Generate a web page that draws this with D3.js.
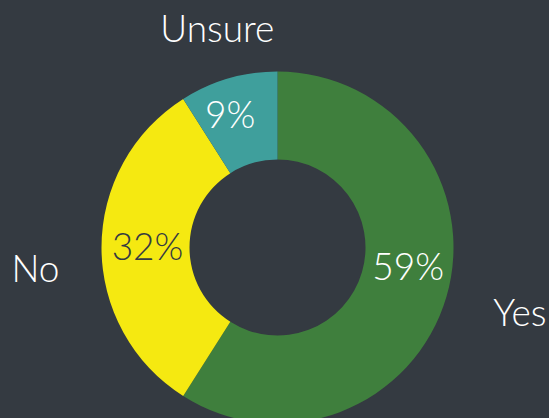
<!DOCTYPE html>
<html>
<head>
<meta charset="utf-8">
<script src="https://cdn.jsdelivr.net/npm/d3@7"></script>
<style>
  html, body { margin: 0; padding: 0; background: #343a41; }
  svg { display: block; }
  text { font-family: Lato, "Open Sans", sans-serif; font-weight: 300; }
</style>
</head>
<body>
<svg id="chart" width="549" height="418"></svg>
<script>
// answers in drawing order, clockwise from 12 o'clock
var categories = ["Yes", "No", "Unsure"];
var shares = [59, 32, 9];
var sliceColors = ["#3f7f3d", "#f5e911", "#3f9f9c"];
var valueColors = ["#ffffff", "#343a41", "#ffffff"];

// small hand nudges so labels sit where they were dragged in the original
var valueShift = [[2, -19], [4, -2], [-10, -5]];
var nameShift = [[-5, 0], [12, 20], [4, 1]];

var cx = 277.5, cy = 247.5;
var outerR = 176, innerR = 88;

var svg = d3.select('#chart');
var g = svg.append('g').attr('transform', 'translate(' + cx + ',' + cy + ')');

var rows = categories.map(function(c, i) {
  return { name: c, value: shares[i], color: sliceColors[i], ink: valueColors[i], i: i };
});

var pie = d3.pie().sort(null).value(function(d) { return d.value; });
var arcs = pie(rows);

var arc = d3.arc().innerRadius(innerR).outerRadius(outerR);
var valueArc = d3.arc().innerRadius(134).outerRadius(134);
var nameArc = d3.arc().innerRadius(230).outerRadius(230);

function place(a, shift) {
  return function(d) {
    var p = a.centroid(d), s = shift[d.data.i];
    return 'translate(' + (p[0] + s[0]) + ',' + (p[1] + s[1]) + ')';
  };
}

g.selectAll('path.slice')
  .data(arcs)
  .enter()
  .append('path')
  .attr('class', 'slice')
  .attr('d', arc)
  .attr('fill', function(d) { return d.data.color; });

g.selectAll('text.value')
  .data(arcs)
  .enter()
  .append('text')
  .attr('class', 'value')
  .attr('transform', place(valueArc, valueShift))
  .attr('text-anchor', 'middle')
  .attr('dominant-baseline', 'central')
  .attr('font-size', 37)
  .attr('fill', function(d) { return d.data.ink; })
  .text(function(d) { return d.data.value + '%'; });

g.selectAll('text.name')
  .data(arcs)
  .enter()
  .append('text')
  .attr('class', 'name')
  .attr('transform', place(nameArc, nameShift))
  .attr('text-anchor', function(d) {
    var s = Math.sin((d.startAngle + d.endAngle) / 2);
    if (s > 0.5) return 'start';
    if (s < -0.5) return 'end';
    return 'middle';
  })
  .attr('dominant-baseline', 'central')
  .attr('font-size', 37)
  .attr('fill', '#ffffff')
  .text(function(d) { return d.data.name; });
</script>
</body>
</html>
